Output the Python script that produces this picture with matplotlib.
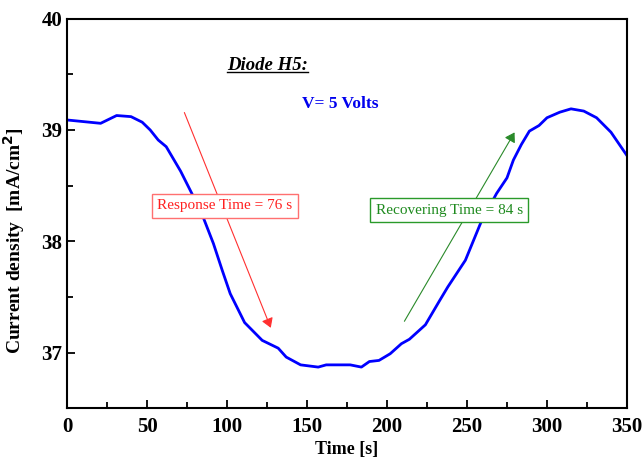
import matplotlib
matplotlib.use("Agg")
import matplotlib.pyplot as plt
from matplotlib.ticker import MultipleLocator

plt.rcParams['font.family'] = ['Liberation Serif', 'DejaVu Serif']

# response / recovery curve of diode H5 at 5 V
time_s = [0, 21, 31, 40, 47, 52, 57, 62, 71, 78, 85, 91.5, 97, 102, 111, 122,
          132, 137, 146, 157, 162, 177, 184, 189, 195, 202, 209, 214, 224, 233,
          238, 249, 259, 268.5, 275, 279, 284, 289, 295, 300, 308, 315, 323,
          331, 340, 350]
current = [39.09, 39.06, 39.13, 39.12, 39.07, 39.00, 38.91, 38.85, 38.63, 38.43,
           38.22, 37.98, 37.74, 37.53, 37.27, 37.11, 37.04, 36.96, 36.89, 36.87,
           36.89, 36.89, 36.87, 36.92, 36.93, 36.99, 37.08, 37.12, 37.25, 37.47,
           37.59, 37.83, 38.18, 38.43, 38.57, 38.73, 38.87, 38.99, 39.04, 39.11,
           39.16, 39.19, 39.17, 39.11, 38.98, 38.77]

response_arrow = [(72.7, 39.18), (128, 37.20)]
recover_arrow = [(210, 37.26), (280.6, 39.0)]

fig = plt.figure(figsize=(6.42, 4.59), dpi=100)
ax = fig.add_axes([0.1044, 0.1105, 0.8722, 0.8488])

ax.plot(time_s, current, color='#0000ff', lw=2)

ax.annotate('', xy=response_arrow[1], xytext=response_arrow[0],
            arrowprops=dict(arrowstyle='-|>,head_width=0.25', color='#ff3030',
                            lw=0.8, mutation_scale=14))
ax.annotate('', xy=recover_arrow[1], xytext=recover_arrow[0],
            arrowprops=dict(arrowstyle='-|>,head_width=0.25', color='#2a8a2a',
                            lw=0.8, mutation_scale=14))

ax.text(98.7, 38.32, 'Response Time = 76 s', color='#ff2020', fontsize=11,
        ha='center', va='center',
        bbox=dict(boxstyle='square,pad=0.35', fc='white', ec='#ff7070', lw=1))
ax.text(239, 38.28, 'Recovering Time = 84 s', color='#1e8a1e', fontsize=11,
        ha='center', va='center',
        bbox=dict(boxstyle='square,pad=0.35', fc='white', ec='#2a9a2a', lw=1))

t = ax.text(125.5, 39.58, 'Diode H5:', fontsize=13.5, fontweight='bold',
            fontstyle='italic', ha='center', va='center')
ax.text(170.6, 39.23, 'V= 5 Volts', fontsize=12.5, fontweight='bold',
        color='#0000ee', ha='center', va='center')

ax.set_xlim(0, 350)
ax.set_ylim(36.5, 40)
ax.xaxis.set_major_locator(MultipleLocator(50))
ax.xaxis.set_minor_locator(MultipleLocator(25))
ax.yaxis.set_major_locator(MultipleLocator(1))
ax.yaxis.set_minor_locator(MultipleLocator(0.5))
ax.tick_params(which='both', direction='in', width=1.3, top=False, right=False)
ax.tick_params(which='major', length=6, labelsize=15)
ax.tick_params(axis='x', which='major', pad=6)
ax.tick_params(which='minor', length=4)
for lab in ax.get_xticklabels() + ax.get_yticklabels():
    lab.set_fontweight('bold')
for sp in ax.spines.values():
    sp.set_linewidth(1.5)

ax.set_xlabel('Time [s]', fontsize=13, fontweight='bold', labelpad=3)
ax.set_ylabel('Current density  [mA/cm$^\\mathbf{2}$]', fontsize=14,
              fontweight='bold', labelpad=5)
ax.yaxis.set_label_coords(-0.072, 0.43)

# underline under the diode title
fig.canvas.draw()
bb = t.get_window_extent().transformed(ax.transAxes.inverted())
ax.plot([bb.x0, bb.x1], [bb.y0 + 0.005, bb.y0 + 0.005], color='black', lw=1,
        transform=ax.transAxes)

fig.savefig('out.png', dpi=100)
